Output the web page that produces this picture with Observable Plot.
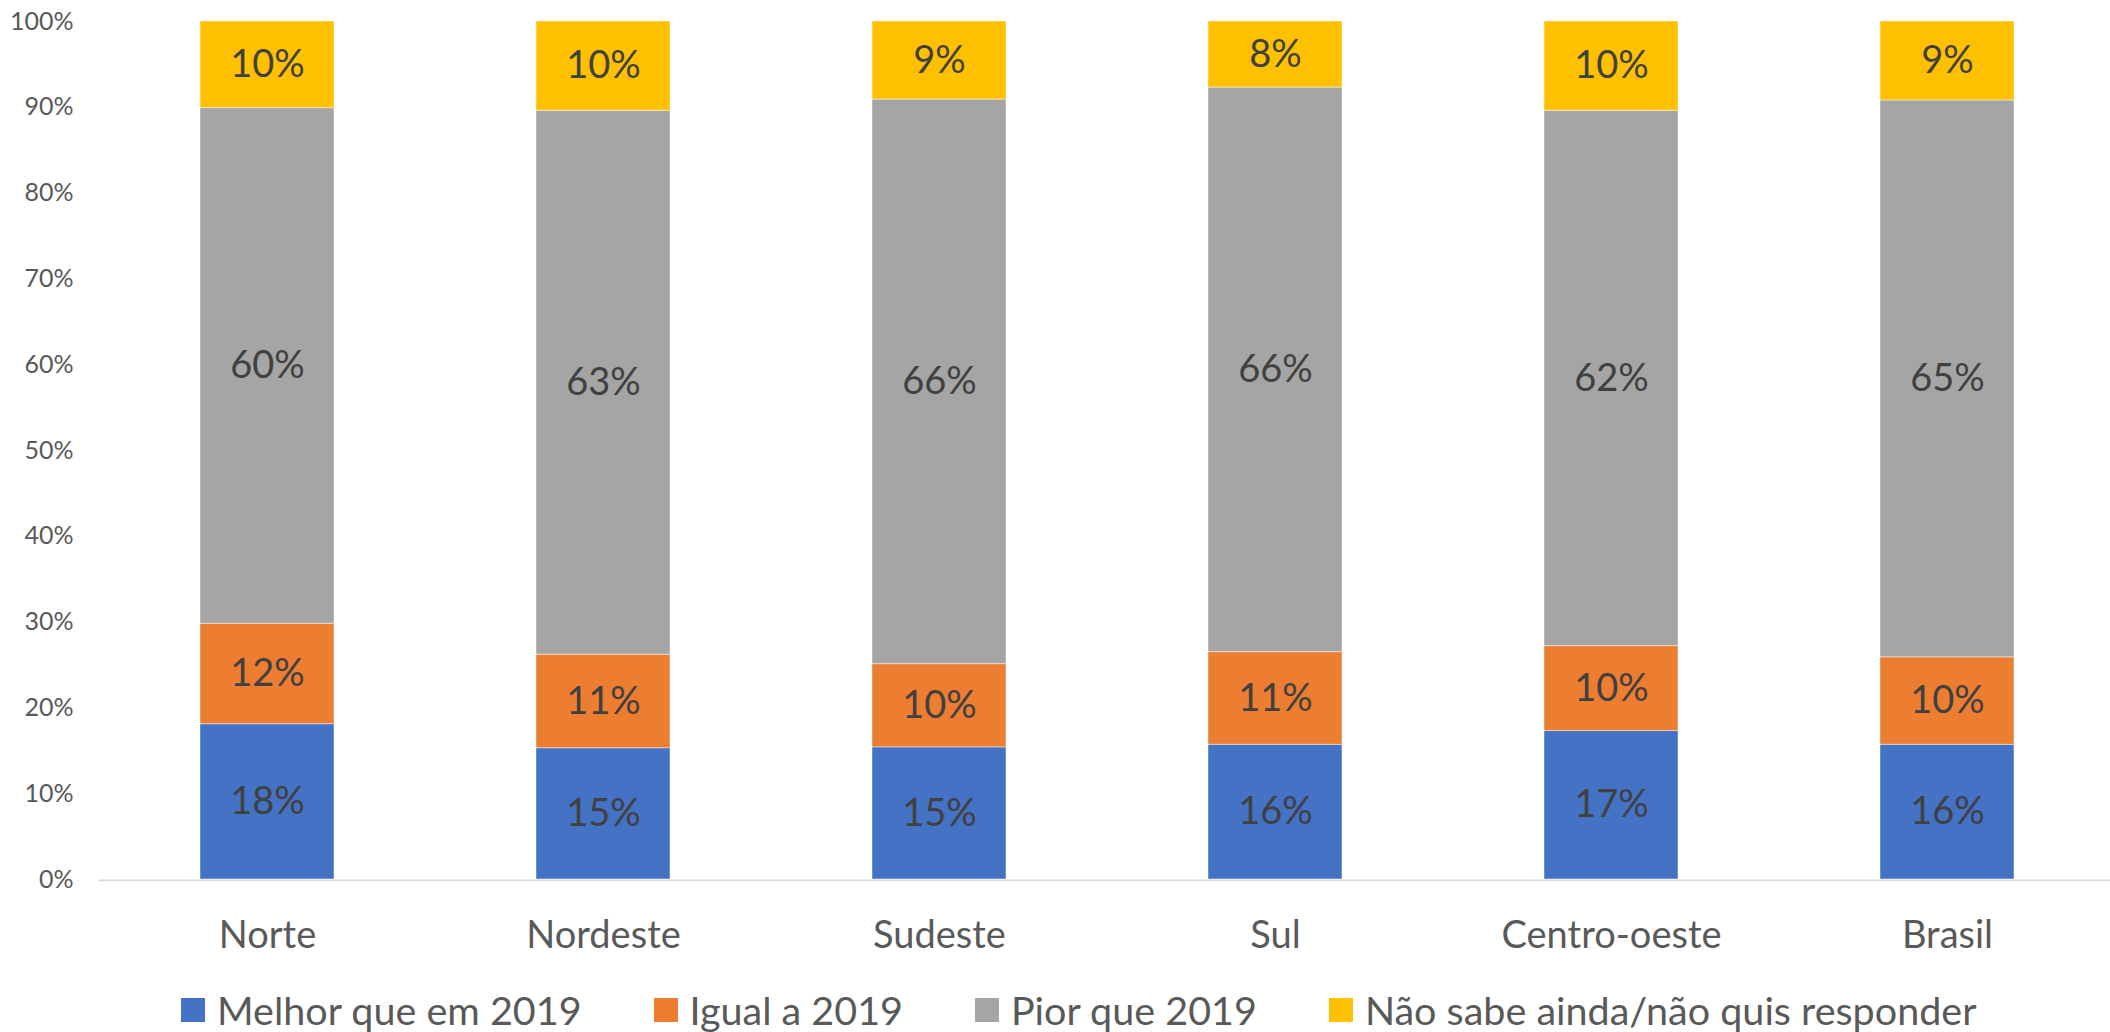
<!DOCTYPE html>
<html>
<head>
<meta charset="utf-8">
<script src="https://cdn.jsdelivr.net/npm/d3@7"></script>
<script src="https://cdn.jsdelivr.net/npm/@observablehq/plot@0.6"></script>
<style>
  html, body { margin: 0; padding: 0; background: #fff; overflow: hidden; }
  body { width: 2110px; height: 1032px; font-family: Lato, sans-serif; }
  #legend { display: flex; align-items: center; height: 44px; padding-top: 20px; padding-left: 181px; gap: 72px; }
  .item { display: flex; align-items: center; font-size: 39.5px; line-height: 44px; color: #595959; white-space: nowrap; }
  .sw { width: 24px; height: 24px; margin-right: 12px; flex: none; }
</style>
</head>
<body>
<div id="chart"></div>
<div id="legend"></div>
<script>
const categories = ["Norte", "Nordeste", "Sudeste", "Sul", "Centro-oeste", "Brasil"];
const series = ["Melhor que em 2019", "Igual a 2019", "Pior que 2019", "Não sabe ainda/não quis responder"];
const melhor  = [18.1, 15.3, 15.4, 15.7, 17.3, 15.7];
const igual   = [11.7, 10.9, 9.7, 10.8, 9.9, 10.2];
const pior    = [60.1, 63.4, 65.8, 65.8, 62.4, 64.9];
const naoSabe = [10.1, 10.4, 9.1, 7.7, 10.4, 9.2];
const colors  = ["#4472C4", "#ED7D31", "#A5A5A5", "#FFC000"];
const yTicks  = [0, 10, 20, 30, 40, 50, 60, 70, 80, 90, 100];

const seriesValues = [melhor, igual, pior, naoSabe];
const rows = [];
categories.forEach((region, i) => {
  series.forEach((s, j) => rows.push({region, series: s, value: seriesValues[j][i]}));
});

const chart = Plot.plot({
  width: 2110,
  height: 968,
  marginLeft: 99,
  marginRight: 0,
  marginTop: 21,
  marginBottom: 89,
  style: {fontFamily: "Lato, sans-serif", background: "white", color: "#595959", overflow: "visible"},
  x: {domain: categories, range: [99, 2116], paddingInner: 0.6, paddingOuter: 0.3, label: null},
  y: {domain: [0, 100], label: null},
  color: {domain: series, range: colors},
  marks: [
    Plot.ruleY([0], {stroke: "#d9d9d9", strokeWidth: 1.8, dy: 0.8}),
    Plot.barY(rows, {x: "region", y: "value", fill: "series", stroke: "white", strokeWidth: 1, strokeOpacity: 0.45}),
    Plot.text(rows, Plot.stackY({x: "region", y: "value", z: "series", text: d => Math.round(d.value) + "%", fill: "#404040", fontSize: 38})),
    Plot.axisY({ticks: yTicks, tickFormat: d => d + "%", tickSize: 0, tickPadding: 26, fontSize: 25, label: null}),
    Plot.axisX({tickSize: 0, tickPadding: 42, fontSize: 38, label: null})
  ]
});
document.getElementById("chart").appendChild(chart);

const legend = document.getElementById("legend");
series.forEach((s, j) => {
  const item = document.createElement("div");
  item.className = "item";
  const sw = document.createElement("span");
  sw.className = "sw";
  sw.style.background = colors[j];
  const label = document.createElement("span");
  label.textContent = s;
  item.appendChild(sw);
  item.appendChild(label);
  legend.appendChild(item);
});
</script>
</body>
</html>
